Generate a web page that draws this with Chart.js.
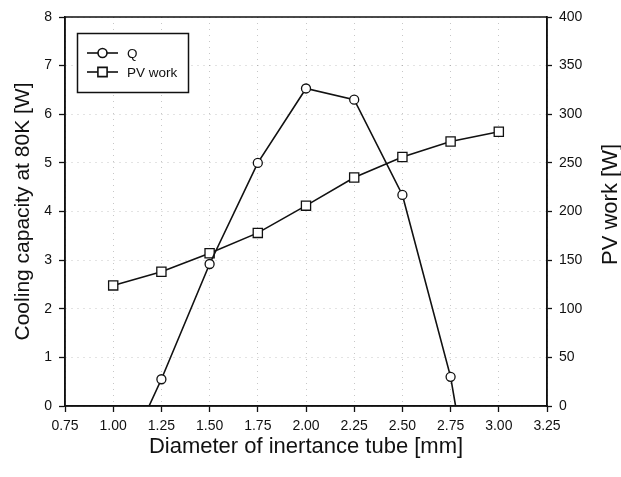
<!DOCTYPE html>
<html><head><meta charset="utf-8">
<script src="https://cdn.jsdelivr.net/npm/chart.js@4.4.1/dist/chart.umd.min.js"></script>
<style>html,body{margin:0;padding:0;background:#fff}#wrap{width:621px;height:477px}</style>
</head><body><div id="wrap"><canvas id="c" width="621" height="477"></canvas></div>
<script>
// ---- data ----
const diameters = [1.00, 1.25, 1.50, 1.75, 2.00, 2.25, 2.50, 2.75, 3.00];
const coolingQ  = [-1.6, 0.55, 2.92, 5.00, 6.53, 6.30, 4.34, 0.60, -5.2];
const pvWork    = [124, 138, 157, 178, 206, 235, 256, 272, 282];
const xTickValues  = [0.75, 1.00, 1.25, 1.50, 1.75, 2.00, 2.25, 2.50, 2.75, 3.00, 3.25];
const yTickValues  = [0, 1, 2, 3, 4, 5, 6, 7, 8];
const y2TickValues = [0, 50, 100, 150, 200, 250, 300, 350, 400];
const seriesLabels = ['Q', 'PV work'];
const xTitle  = 'Diameter of inertance tube [mm]';
const yTitle  = 'Cooling capacity at 80K [W]';
const y2Title = 'PV work [W]';

const FONT = "'Liberation Sans', Arial, Helvetica, sans-serif";
const INK = '#111';
const GRID = 'rgba(0,0,0,0.22)';

const framePlugin = {
  id: 'frame',
  afterDraw(chart) {
    const ctx = chart.ctx, a = chart.chartArea;
    ctx.save();
    // full frame (solid)
    ctx.setLineDash([]);
    ctx.strokeStyle = INK; ctx.lineWidth = 1.5;
    ctx.strokeRect(a.left, a.top, a.right - a.left, a.bottom - a.top);
    // right axis title (reads bottom-to-top)
    ctx.fillStyle = INK;
    ctx.font = '22px ' + FONT;
    ctx.textAlign = 'center'; ctx.textBaseline = 'middle';
    ctx.translate(611, (a.top + a.bottom) / 2 - 7);
    ctx.rotate(-Math.PI / 2);
    ctx.fillText(y2Title, 0, 0);
    ctx.restore();

    // legend box
    ctx.save();
    ctx.setLineDash([]);
    const bx = 77.5, by = 33.5, bw = 111, bh = 59;
    ctx.fillStyle = '#fff';
    ctx.fillRect(bx, by, bw, bh);
    ctx.strokeStyle = INK; ctx.lineWidth = 1.5;
    ctx.strokeRect(bx, by, bw, bh);
    ctx.font = '13.5px ' + FONT;
    ctx.textAlign = 'left'; ctx.textBaseline = 'middle';
    chart.data.datasets.forEach((ds, i) => {
      const y = 53 + i * 19;
      ctx.strokeStyle = ds.borderColor; ctx.lineWidth = ds.borderWidth;
      ctx.beginPath(); ctx.moveTo(87, y); ctx.lineTo(118, y); ctx.stroke();
      ctx.fillStyle = '#fff';
      Chart.helpers.drawPoint(ctx, {pointStyle: ds.pointStyle, radius: ds.pointRadius, borderWidth: ds.pointBorderWidth, rotation: 0}, 102.5, y);
      ctx.fillStyle = INK;
      ctx.fillText(ds.label, 127, y + 1);
    });
    ctx.restore();
  }
};

new Chart(document.getElementById('c'), {
  type: 'line',
  data: {
    datasets: [
      {
        label: seriesLabels[0],
        data: diameters.map((d, i) => ({x: d, y: coolingQ[i]})),
        yAxisID: 'y',
        borderColor: INK, borderWidth: 1.6,
        pointStyle: 'circle', pointRadius: 4.5, pointBorderWidth: 1.3,
        pointBackgroundColor: '#fff', pointBorderColor: INK,
        tension: 0, fill: false
      },
      {
        label: seriesLabels[1],
        data: diameters.map((d, i) => ({x: d, y: pvWork[i]})),
        yAxisID: 'y2',
        borderColor: INK, borderWidth: 1.6,
        pointStyle: 'rect', pointRadius: 6.5, pointBorderWidth: 1.3,
        pointBackgroundColor: '#fff', pointBorderColor: INK,
        tension: 0, fill: false
      }
    ]
  },
  options: {
    responsive: false,
    animation: false,
    devicePixelRatio: 1,
    layout: {padding: {top: 17, left: 0, right: 0, bottom: 0}},
    plugins: {legend: {display: false}, tooltip: {enabled: false}},
    scales: {
      x: {
        type: 'linear', position: 'bottom', min: 0.75, max: 3.25,
        afterBuildTicks: s => { s.ticks = xTickValues.map(v => ({value: v})); },
        afterFit: s => { s.height = 71; },
        ticks: {color: INK, font: {family: FONT, size: 14}, padding: 6, maxRotation: 0, autoSkip: false,
                callback: v => Number(v).toFixed(2)},
        grid: {color: GRID, borderDash: [1, 5], lineWidth: 1, tickColor: INK, tickLength: 6, tickWidth: 1.3, tickBorderDash: []},
        border: {color: INK, width: 1.5, dash: [1, 5]},
        title: {display: true, text: xTitle, color: INK, font: {family: FONT, size: 22}, padding: {top: 0, bottom: 17}}
      },
      y: {
        type: 'linear', position: 'left', min: 0, max: 8,
        afterBuildTicks: s => { s.ticks = yTickValues.map(v => ({value: v})); },
        afterFit: s => { s.width = 65; },
        ticks: {color: INK, font: {family: FONT, size: 14}, padding: 7},
        grid: {color: GRID, borderDash: [1, 5], lineWidth: 1, tickColor: INK, tickLength: 6, tickWidth: 1.3, tickBorderDash: []},
        border: {color: INK, width: 1.5, dash: [1, 5]},
        title: {display: true, text: yTitle, color: INK, font: {family: FONT, size: 21}, padding: {top: 11, bottom: 0}}
      },
      y2: {
        type: 'linear', position: 'right', min: 0, max: 400,
        afterBuildTicks: s => { s.ticks = y2TickValues.map(v => ({value: v})); },
        afterFit: s => { s.width = 74; },
        ticks: {color: INK, font: {family: FONT, size: 14}, padding: 7},
        grid: {drawOnChartArea: false, tickColor: INK, tickLength: 5, tickWidth: 1.3},
        border: {color: INK, width: 1.5}
      }
    }
  },
  plugins: [framePlugin]
});
</script>
</body></html>
